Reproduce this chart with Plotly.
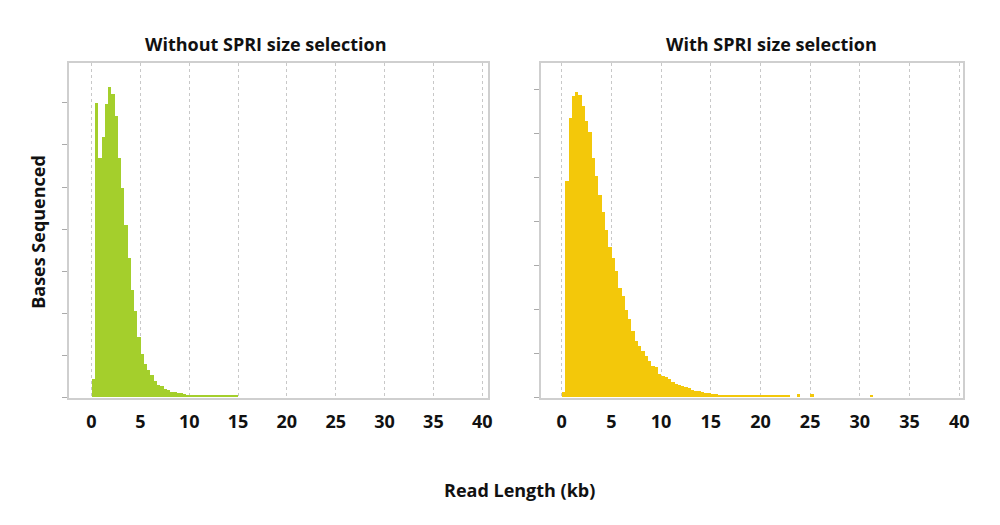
import plotly.graph_objects as go

bin_kb = 1/3
left_vals = [0.44, 7.0, 5.7, 6.2, 6.98, 7.37, 7.22, 6.68, 5.7, 4.98, 4.1, 3.31, 2.54, 2.06, 1.43,
             1.03, 0.79, 0.65, 0.52, 0.38, 0.3, 0.26, 0.2, 0.18, 0.13, 0.12, 0.1, 0.09, 0.08,
             0.06, 0.05, 0.06, 0.05, 0.06, 0.05, 0.05, 0.06, 0.05, 0.05, 0.05, 0.05, 0.05, 0.05, 0.05, 0.05]
right_vals = [0.11, 4.92, 6.35, 6.84, 6.95, 6.88, 6.62, 6.28, 6.02, 5.45, 5.04, 4.59, 4.21, 3.8, 3.42,
              3.16, 2.86, 2.48, 2.29, 1.99, 1.77, 1.5, 1.28, 1.17, 1.05, 0.94, 0.83, 0.71, 0.68, 0.53,
              0.49, 0.45, 0.41, 0.34, 0.3, 0.27, 0.26, 0.24, 0.2, 0.17, 0.15, 0.14, 0.12, 0.1, 0.1,
              0.08, 0.07] + [0.05]*22 + [0, 0, 0.06, 0, 0, 0, 0.06] + [0]*17 + [0.05]
left_x = [i*bin_kb + bin_kb/2 for i in range(len(left_vals))]
right_x = [i*bin_kb + bin_kb/2 for i in range(len(right_vals))]
xticks = [0, 5, 10, 15, 20, 25, 30, 35, 40]

fig = go.Figure()
fig.add_bar(x=left_x, y=left_vals, width=bin_kb, marker=dict(color="#a4cf2c", line_width=0), xaxis="x", yaxis="y")
fig.add_bar(x=right_x, y=right_vals, width=bin_kb, marker=dict(color="#f3c80a", line_width=0), xaxis="x2", yaxis="y2")

font = dict(family="Open Sans", size=18, color="#111")
xcommon = dict(tickvals=xticks, showgrid=True, gridcolor="#c8c8c8", griddash="dot", gridwidth=1,
               zeroline=False, showline=True, mirror=True, linecolor="#cfcfcf", linewidth=2,
               ticks="", tickfont=dict(family="Open Sans", size=18, color="#111", weight="bold"),
               ticklabelstandoff=6)
ycommon = dict(showgrid=False, zeroline=False, showline=True, mirror=True, linecolor="#cfcfcf", linewidth=2,
               ticks="outside", ticklen=5, tickcolor="#aaa", showticklabels=False, tickvals=list(range(8)))
dx, dy = 7/1000, 8/525
ydom = [1-398/525+dy, 1-63/525+dy]
fig.update_layout(
    width=1000, height=525, margin=dict(l=0, r=0, t=0, b=0),
    paper_bgcolor="white", plot_bgcolor="white", showlegend=False, bargap=0,
    xaxis=dict(domain=[0.068-dx, 0.490-dx], range=[-2.34, 40.6], **xcommon),
    xaxis2=dict(domain=[0.543-dx, 0.968-dx], range=[-2.1, 40.4], anchor="y2", **xcommon),
    yaxis=dict(domain=ydom, range=[-0.02, 7.95], anchor="x", **ycommon),
    yaxis2=dict(domain=ydom, range=[-0.02, 7.6], anchor="x2", **ycommon),
    annotations=[
        dict(text="<b>Without SPRI size selection</b>", x=0.267-dx, y=1-44/525+dy, xref="paper", yref="paper", xanchor="center", yanchor="middle", showarrow=False, font=font),
        dict(text="<b>With SPRI size selection</b>", x=0.775-dx, y=1-44/525+dy, xref="paper", yref="paper", xanchor="center", yanchor="middle", showarrow=False, font=font),
        dict(text="<b>Read Length (kb)</b>", x=0.522-dx, y=1-490/525+dy, xref="paper", yref="paper", xanchor="center", yanchor="middle", showarrow=False, font=font),
        dict(text="<b>Bases Sequenced</b>", x=0.037-dx, y=1-232/525+dy, xref="paper", yref="paper", xanchor="center", yanchor="middle", showarrow=False, textangle=-90, font=font),
    ],
)
fig.write_html("out.html")
